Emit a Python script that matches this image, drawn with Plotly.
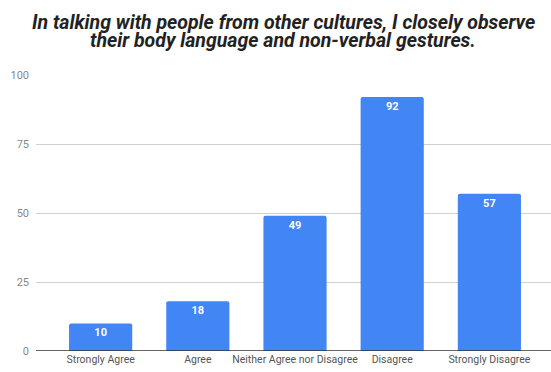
import plotly.graph_objects as go

categories = ["Strongly Agree", "Agree", "Neither Agree nor Disagree", "Disagree", "Strongly Disagree"]
values = [10, 18, 49, 92, 57]
y_ticks = [0, 25, 50, 75, 100]
title_lines = [
    "In talking with people from other cultures, I closely observe",
    "their body language and non-verbal gestures.",
]

fig = go.Figure(go.Bar(
    x=list(range(len(categories))),
    y=values,
    width=0.65,
    marker=dict(color="#4285F4", line=dict(width=0), cornerradius=2),
    text=[str(v) for v in values],
    texttemplate="<b>%{text}</b>",
    textposition="inside",
    insidetextanchor="end",
    textangle=0,
    constraintext="none",
    textfont=dict(color="white", size=11, family="Roboto"),
    hoverinfo="skip",
))

fig.update_layout(
    width=551, height=372,
    margin=dict(l=36, r=0, t=75, b=21),
    paper_bgcolor="white", plot_bgcolor="white",
    showlegend=False,
    font=dict(family="Roboto", color="#444"),
    xaxis=dict(
        range=[-0.665, 4.634],
        tickmode="array",
        tickvals=list(range(len(categories))),
        ticktext=categories,
        showgrid=False, zeroline=False, showline=False,
        tickfont=dict(size=10.5, color="#555"),
        ticks="",
    ),
    yaxis=dict(
        range=[0, 100],
        tickmode="array",
        tickvals=y_ticks,
        showgrid=True, gridcolor="#d0d0d0", gridwidth=1,
        zeroline=False, showline=False,
        tickfont=dict(size=11, color="#888"),
        ticks="", ticklabelstandoff=6,
    ),
)
for i, (line, ypix) in enumerate(zip(title_lines, [22, 41])):
    fig.add_annotation(
        text="<b><i>" + line + "</i></b>",
        xref="paper", yref="paper", x=(283 - 36) / (551 - 36),
        y=1 + (75 - ypix) / (372 - 75 - 21),
        xanchor="center", yanchor="middle", showarrow=False,
        font=dict(size=19.5, color="#222", family="Roboto"),
    )
fig.add_shape(type="line", xref="paper", yref="y", x0=0, x1=1, y0=0, y1=0,
              line=dict(color="#333", width=1.5))

fig.write_html("out.html")
